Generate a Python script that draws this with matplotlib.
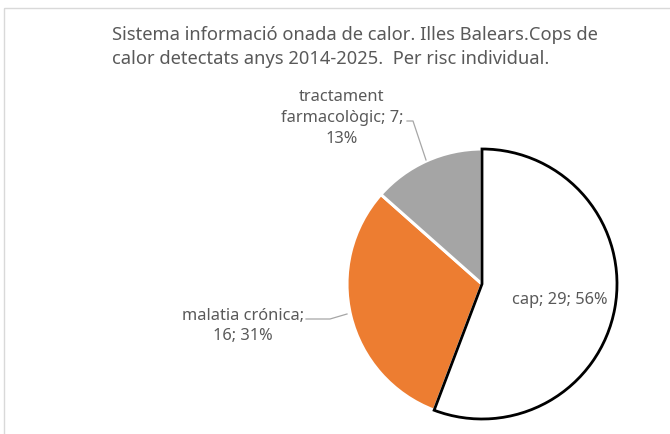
import matplotlib
matplotlib.use("Agg")
import matplotlib.pyplot as plt
from matplotlib.patches import Rectangle

categories = ["cap", "malatia crónica", "tractament farmacològic"]
values = [29, 16, 7]
colors = ["#ffffff", "#ed7d31", "#a5a5a5"]
title = "Sistema informació onada de calor. Illes Balears.Cops de\ncalor detectats anys 2014-2025.  Per risc individual."

plt.rcParams['font.family'] = ['Noto Sans', 'DejaVu Sans']
TXT = "#595959"

W, H = 670, 435
fig = plt.figure(figsize=(W / 100, H / 100), dpi=100)
ax = fig.add_axes([0, 0, 1, 1])

# frame
ax.add_patch(Rectangle((3.5, 8.5), 700, 500, fill=False, edgecolor="#d9d9d9", lw=1))

cx, cy, r = 482, 285, 135
total = sum(values)
wedges, _ = ax.pie(values, colors=colors, startangle=-90, counterclock=True,
                   center=(cx, cy), radius=r, frame=True,
                   wedgeprops=dict(edgecolor="white", linewidth=2.2))
ax.set_xlim(0, W)
ax.set_ylim(H, 0)
ax.set_aspect('equal')
ax.axis('off')
wedges[0].set_edgecolor("black")
wedges[0].set_linewidth(2.0)
wedges[0].set_zorder(5)

pcts = [round(v / total * 100) for v in values]

tfs = 13.2
fs = 11.8
ax.text(112, 47, title, ha='left', va='center', fontsize=tfs, color=TXT, linespacing=1.42)

ax.text(560, 300, f"{categories[0]}; {values[0]}; {pcts[0]}%", ha='center', va='center',
        fontsize=fs, color=TXT, zorder=6)
ax.text(243, 326, f"{categories[1]};\n{values[1]}; {pcts[1]}%",
        ha='center', va='center', fontsize=fs, color=TXT, linespacing=1.27)
ax.text(342, 118, f"tractament\nfarmacològic; {values[2]};\n{pcts[2]}%",
        ha='center', va='center', fontsize=fs, color=TXT, linespacing=1.4)

lc = "#a6a6a6"
ax.plot([407, 413, 426], [122, 122, 161], color=lc, lw=0.9)
ax.plot([306, 330, 347], [320, 320, 315], color=lc, lw=0.9)

fig.savefig("out.png", dpi=100)
